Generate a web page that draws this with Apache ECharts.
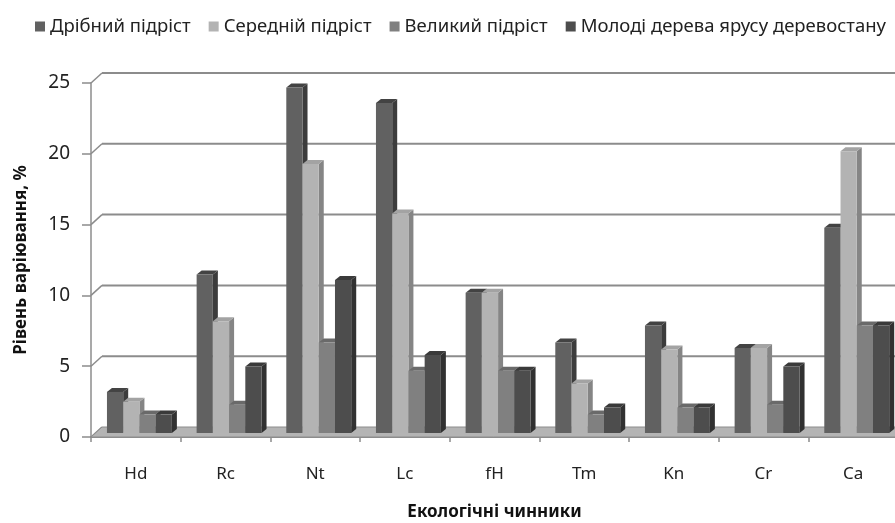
<!DOCTYPE html>
<html>
<head>
<meta charset="utf-8">
<script src="https://cdn.jsdelivr.net/npm/echarts@6/dist/echarts.min.js"></script>
<style>
    html, body { margin: 0; padding: 0; background: #fff; }
    #main { width: 895px; height: 523px; }
</style>
</head>
<body>
<div id="main"></div>
<script>
// categories and values
var categories = ["Hd", "Rc", "Nt", "Lc", "fH", "Tm", "Kn", "Cr", "Ca"];
var seriesNames = ["Дрібний підріст", "Середній підріст", "Великий підріст", "Молоді дерева ярусу деревостану"];
var smallUndergrowth = [2.9, 11.2, 24.4, 23.3, 9.9, 6.4, 7.6, 6.0, 14.5];
var mediumUndergrowth = [2.2, 7.9, 19.0, 15.5, 9.9, 3.5, 5.9, 6.0, 19.9];
var largeUndergrowth = [1.3, 2.0, 6.4, 4.4, 4.4, 1.3, 1.8, 2.0, 7.6];
var youngTrees = [1.3, 4.7, 10.8, 5.5, 4.4, 1.8, 1.8, 4.7, 7.6];
var yTicks = [0, 5, 10, 15, 20, 25];

var fontName = "Noto Sans";
//front, top, side colours of each series
var faceColors = [
    ["#616161", "#434343", "#3c3c3c"],
    ["#b3b3b3", "#a3a3a3", "#858585"],
    ["#808080", "#6a6a6a", "#5e5e5e"],
    ["#4d4d4d", "#3a3a3a", "#313131"]
];
var depthX = 5, depthY = 4; //bar depth
var wallX = 11, wallY = 10;  //back wall offset

var myChart = echarts.init(document.getElementById("main"));

//3d-ish column drawn from the axis scales
function barRenderer(idx) {
    return function (params, api) {
        var cat = api.value(0);
        var v = api.value(1);
        var p0 = api.coord([cat, 0]);
        var p1 = api.coord([cat, v]);
        var band = api.size([1, 0])[0];
        var w = band * 0.181;
        var x = p0[0] - band / 2 + band * 0.178 + idx * w;
        var yb = p0[1] - 4;
        var yt = p1[1] - 4;
        var c = faceColors[idx];
        return {
            type: "group",
            children: [{
                type: "polygon",
                shape: { points: [[x + w, yt], [x + w + depthX, yt - depthY], [x + w + depthX, yb - depthY], [x + w, yb]] },
                style: { fill: c[2] }
            }, {
                type: "polygon",
                shape: { points: [[x, yt], [x + depthX, yt - depthY], [x + w + depthX, yt - depthY], [x + w, yt]] },
                style: { fill: c[1] }
            }, {
                type: "rect",
                shape: { x: x, y: yt, width: w, height: yb - yt },
                style: { fill: c[0] }
            }]
        };
    };
}

//back wall gridlines and floor
function wallRenderer(params, api) {
    var cs = params.coordSys;
    var v = api.value(1);
    var y = api.coord([0, v])[1];
    var left = cs.x;
    var right = cs.x + cs.width + wallX;
    var children = [{
        type: "line",
        shape: { x1: left, y1: y, x2: left + wallX, y2: y - wallY },
        style: { stroke: "#8c8c8c", lineWidth: 1.5 }
    }];
    if (v === 0) {
        children.push({
            type: "polygon",
            shape: { points: [[left, y], [left + wallX, y - wallY], [right, y - wallY], [right - wallX, y]] },
            style: { fill: "#b4b4b4", stroke: "#8c8c8c", lineWidth: 1 }
        });
    } else {
        children.push({
            type: "line",
            shape: { x1: left + wallX, y1: y - wallY, x2: right, y2: y - wallY },
            style: { stroke: "#8c8c8c", lineWidth: 2 }
        });
    }
    return { type: "group", children: children };
}

function toPairs(arr) {
    var out = [];
    for (var i = 0; i < arr.length; i++) {
        out.push([i, arr[i]]);
    }
    return out;
}

var allValues = [smallUndergrowth, mediumUndergrowth, largeUndergrowth, youngTrees];
var series = [{
    name: "wall",
    type: "custom",
    renderItem: wallRenderer,
    data: yTicks.map(function (t) { return [0, t]; }),
    z: 1,
    silent: true
}];
for (var s = 0; s < allValues.length; s++) {
    series.push({
        name: seriesNames[s],
        type: "custom",
        renderItem: barRenderer(s),
        itemStyle: { color: faceColors[s][0] },
        data: toPairs(allValues[s]),
        z: 2 + s
    });
}

var option = {
    animation: false,
    backgroundColor: "#fff",
    textStyle: { fontFamily: fontName },
    legend: {
        data: seriesNames,
        left: 30,
        top: 12,
        width: 1200,
        icon: "rect",
        itemWidth: 10,
        itemHeight: 10,
        itemGap: 18,
        textStyle: { fontSize: 18.5, color: "#222", fontFamily: fontName }
    },
    grid: {
        left: 91,
        top: 83,
        width: 807,
        bottom: 86,
        outerBoundsMode: "none",
        containLabel: false
    },
    xAxis: {
        type: "category",
        data: categories,
        name: "Екологічні чинники",
        nameLocation: "middle",
        nameGap: 67,
        nameTextStyle: { fontSize: 17, fontWeight: "bold", color: "#111", fontFamily: fontName },
        axisLine: { show: true, lineStyle: { color: "#8c8c8c", width: 2 } },
        axisTick: { show: true, length: 5, lineStyle: { color: "#8c8c8c", width: 1.5 } },
        axisLabel: { fontSize: 17, color: "#222", margin: 29, fontFamily: fontName },
        splitLine: { show: false }
    },
    yAxis: {
        type: "value",
        min: 0,
        max: 25,
        interval: 5,
        name: "Рівень варіювання, %",
        nameLocation: "middle",
        nameRotate: 90,
        nameGap: 61,
        nameTextStyle: { fontSize: 17, fontWeight: "bold", color: "#111", fontFamily: fontName },
        axisLine: { show: true, lineStyle: { color: "#8c8c8c", width: 1.5 } },
        axisTick: { show: true, length: 9, lineStyle: { color: "#8c8c8c", width: 1.5 } },
        axisLabel: { fontSize: 19, color: "#222", margin: 21, fontFamily: fontName },
        splitLine: { show: false }
    },
    series: series
};
myChart.setOption(option);
</script>
</body>
</html>
